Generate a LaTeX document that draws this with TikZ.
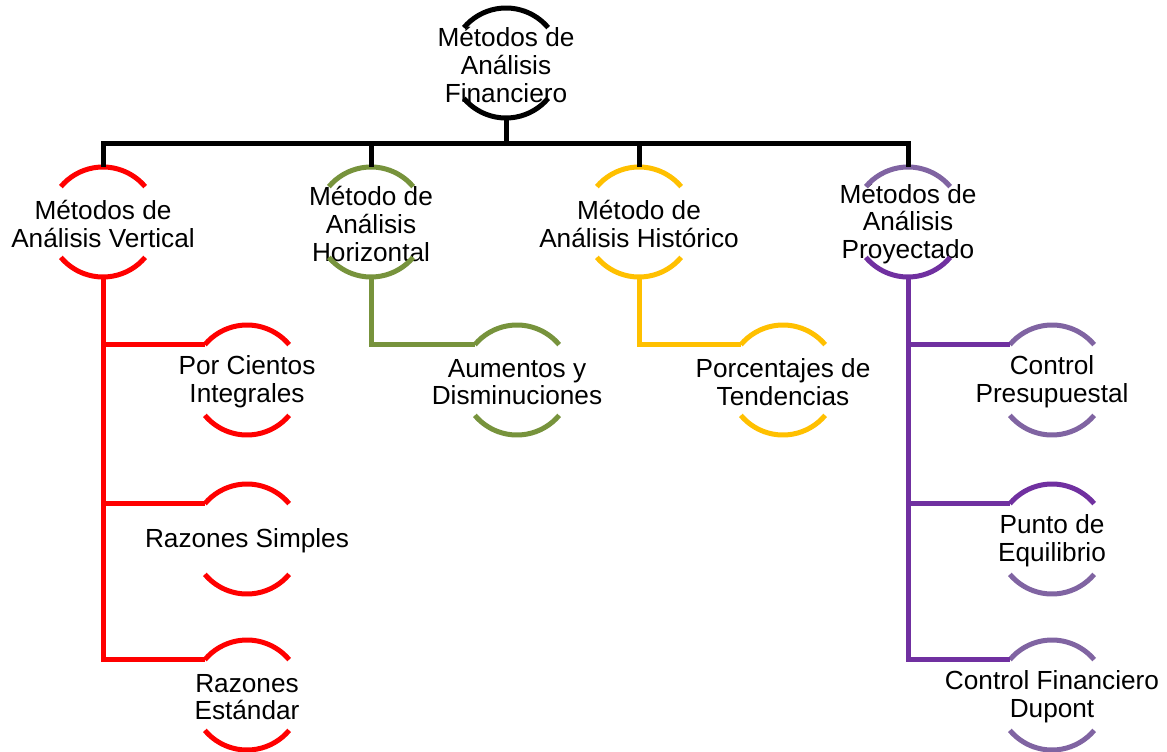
\documentclass[tikz,border=0pt]{standalone}
\usepackage{fontspec}
\setmainfont{Liberation Sans}
\definecolor{cred}{HTML}{FF0000}
\definecolor{cgreen}{HTML}{77933C}
\definecolor{cgold}{HTML}{FFC000}
\definecolor{cpurl}{HTML}{8064A2}
\definecolor{cpurd}{HTML}{7030A0}
\newcommand\arcnode[5]{%
  \node[ring] (#1) at (#2) {};
  \node[txt] (#1-t) at (#1.center) {#3};
  \draw[arcline,#4] ([shift={(40:55pt)}]#1.center) arc[start angle=40,end angle=140,radius=55pt];
  \draw[arcline,#5] ([shift={(220:55pt)}]#1.center) arc[start angle=220,end angle=320,radius=55pt];
}
\begin{document}
\begin{tikzpicture}[x=1pt,y=1pt,
  ring/.style={circle,minimum size=110pt,inner sep=0pt,draw=none},
  txt/.style={align=center,inner sep=0pt,yshift=-2pt,font=\fontsize{26.2}{27.6}\selectfont,text=black},
  arcline/.style={line width=5pt},
  conn/.style={line width=5pt}]
\useasboundingbox (0,0) rectangle (1167,-752);
\fill[white] (0,0) rectangle (1167,-752);
% top
\arcnode{top}{506,-63}{Métodos de\\Análisis\\Financiero}{black}{black}
% level 1
\arcnode{red}{103,-222}{Métodos de\\Análisis Vertical}{cred}{cred}
\arcnode{green}{371,-222}{Método de\\Análisis\\Horizontal}{cgreen}{cgreen}
\arcnode{gold}{639,-222}{Método de\\Análisis Histórico}{cgold}{cgold}
\arcnode{purple}{908,-222}{Métodos de\\Análisis\\Proyectado}{cpurl}{cpurd}
% level 2
\arcnode{rc1}{247,-380}{Por Cientos\\Integrales}{cred}{cred}
\arcnode{rc2}{247,-539}{Razones Simples}{cred}{cred}
\arcnode{rc3}{247,-695}{Razones\\Estándar}{cred}{cred}
\arcnode{gc1}{517,-380}{Aumentos y\\Disminuciones}{cgreen}{cgreen}
\arcnode{yc1}{783,-380}{Porcentajes de\\Tendencias}{cgold}{cgold}
\arcnode{pc1}{1052,-380}{Control\\Presupuestal}{cpurl}{cpurl}
\arcnode{pc2}{1052,-539}{Punto de\\Equilibrio}{cpurd}{cpurl}
\arcnode{pc3}{1052,-695}{Control Financiero\\Dupont}{cpurl}{cpurl}
% connectors
\coordinate (bar) at (506,-143);
\draw[conn,black] (top.south) -- (bar);
\draw[conn,black] (red.north) |- (bar) -| (purple.north);
\draw[conn,black] (green.north) -- (green.north |- bar);
\draw[conn,black] (gold.north) -- (gold.north |- bar);
\draw[conn,cred] (red.south) |- (rc1.140);
\draw[conn,cred] (red.south) |- (rc2.140);
\draw[conn,cred] (red.south) |- (rc3.140);
\draw[conn,cgreen] (green.south) |- (gc1.140);
\draw[conn,cgold] (gold.south) |- (yc1.140);
\draw[conn,cpurd] (purple.south) |- (pc1.140);
\draw[conn,cpurd] (purple.south) |- (pc2.140);
\draw[conn,cpurd] (purple.south) |- (pc3.140);
\end{tikzpicture}
\end{document}
